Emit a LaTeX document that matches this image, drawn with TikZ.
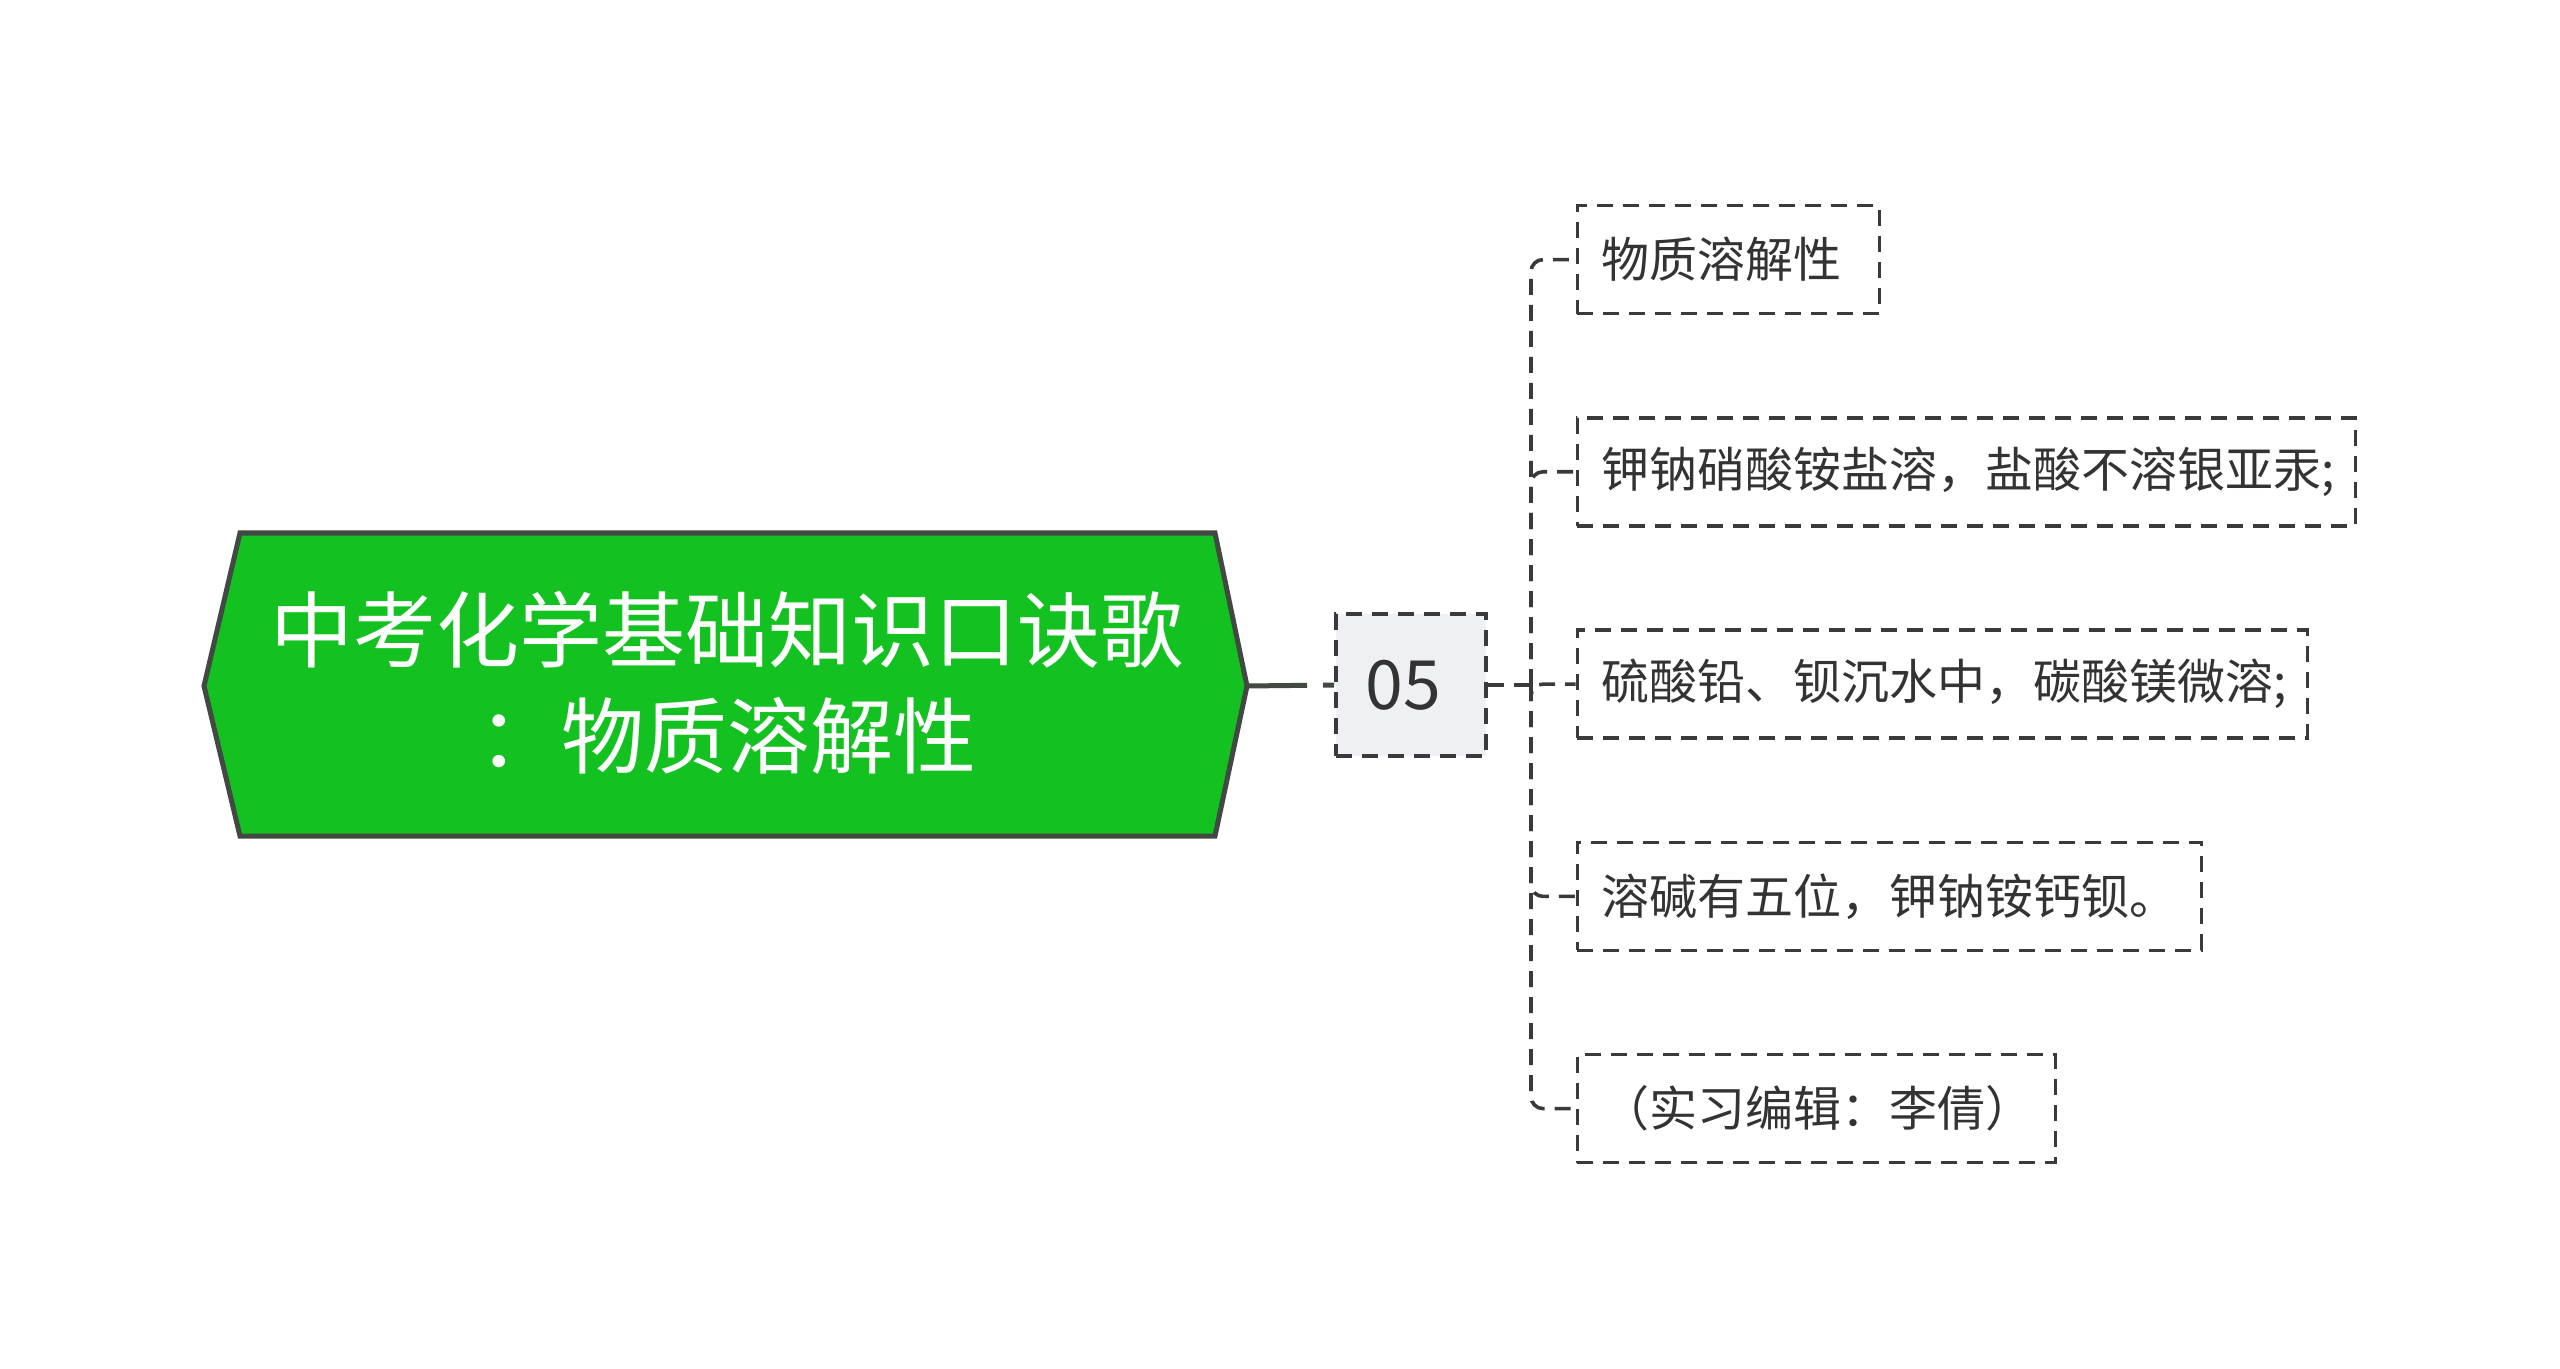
\documentclass[tikz,border=0pt]{standalone}
\usepackage{fontspec}
\setmainfont{Noto Sans CJK SC}
\definecolor{rootgreen}{HTML}{13C221}
\definecolor{rootline}{HTML}{424842}
\definecolor{linegray}{HTML}{3A3A3A}
\definecolor{txtgray}{HTML}{333333}
\definecolor{boxgray}{HTML}{EEF0F3}
\tikzset{
  dashline/.style={draw=linegray, line width=1.8pt, dash pattern=on 8pt off 5pt},
  childbox/.style={dashline, anchor=west, minimum height=54pt, inner xsep=12pt,
    align=left, text=txtgray, font=\fontsize{24}{28}\selectfont},
  numbox/.style={dashline, fill=boxgray, minimum width=75pt, minimum height=71pt,
    text=txtgray, font=\fontsize{34}{38}\selectfont},
  conn/.style={dashline, rounded corners=6pt},
}
\begin{document}
\begin{tikzpicture}[x=0.5pt, y=-0.5pt]
\useasboundingbox (0,0) rectangle (2560,1369);
% root hexagon
\coordinate (rL) at (204,686);
\coordinate (rTL) at (240,533);
\coordinate (rTR) at (1215,533);
\coordinate (rR) at (1247,686);
\coordinate (rBR) at (1215,836);
\coordinate (rBL) at (240,836);
\draw[fill=rootgreen, draw=rootline, line width=2.5pt, line join=miter]
  (rL) -- (rTL) -- (rTR) -- (rR) -- (rBR) -- (rBL) -- cycle;
\node[text=white, align=center, font=\fontsize{41.5}{53}\selectfont, inner sep=0pt]
  (root) at (727,683) {中考化学基础知识口诀歌\\：物质溶解性};
% level 1
\node[numbox] (n05) at (1411,685) {\hspace*{-8pt}05};
\draw[draw=rootline, line width=2.5pt, dash pattern=on 30pt off 8pt on 12pt off 20pt] (rR) -- (n05.west);
% hub
\coordinate (hub) at (1531,685);
% children
\node[childbox, text width=127pt] (c1) at (1575.6,259.6) {物质溶解性};
\node[childbox, text width=365pt] (c2) at (1575.6,471.8) {钾钠硝酸铵盐溶，盐酸不溶银亚汞;};
\node[childbox, text width=341pt] (c3) at (1575.6,684.1) {硫酸铅、钡沉水中，碳酸镁微溶;};
\node[childbox, text width=288pt] (c4) at (1575.6,896.4) {溶碱有五位，钾钠铵钙钡。};
\node[childbox, text width=215pt] (c5) at (1575.6,1108.6) {（实习编辑：李倩）};
\draw[conn] (n05.east) -- (hub);
\foreach \c in {c1,c2,c3,c4,c5}{
  \draw[conn] (hub) |- (\c.west);
}
\end{tikzpicture}
\end{document}
